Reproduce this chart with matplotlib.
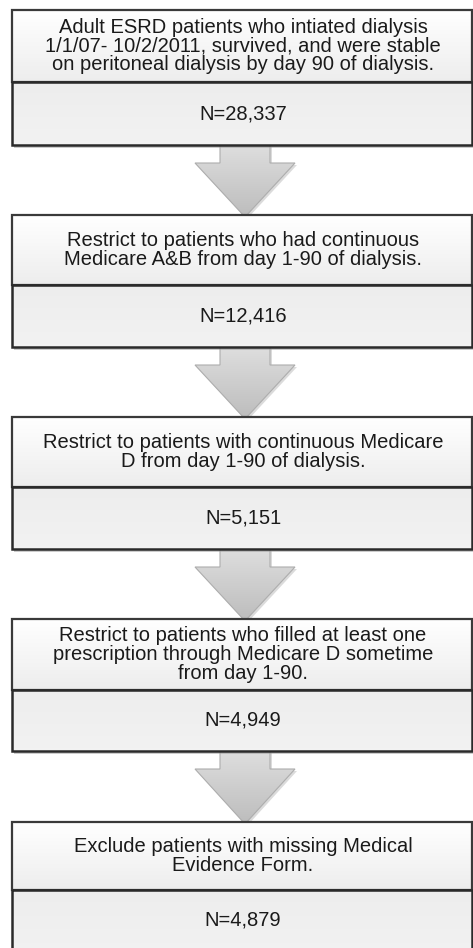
import matplotlib.pyplot as plt
import matplotlib.patches as mpatches
import numpy as np

plt.rcParams['font.family'] = ['Liberation Sans', 'DejaVu Sans']

# flowchart content
step_texts = [
    "Adult ESRD patients who intiated dialysis\n1/1/07- 10/2/2011, survived, and were stable\non peritoneal dialysis by day 90 of dialysis.",
    "Restrict to patients who had continuous\nMedicare A&B from day 1-90 of dialysis.",
    "Restrict to patients with continuous Medicare\nD from day 1-90 of dialysis.",
    "Restrict to patients who filled at least one\nprescription through Medicare D sometime\nfrom day 1-90.",
    "Exclude patients with missing Medical\nEvidence Form.",
]
step_counts = [28337, 12416, 5151, 4949, 4879]

# box layout in pixels (top, divider, bottom)
box_top = [10, 215, 417, 619, 822]
box_div = [82, 285, 487, 690, 890]
box_bot = [145, 347, 549, 751, 960]
x_left, x_right = 12, 472

W, H = 473, 948
fig = plt.figure(figsize=(W / 100, H / 100), dpi=100)
ax = fig.add_axes([0, 0, 1, 1])
ax.set_xlim(0, W)
ax.set_ylim(H, 0)
ax.set_axis_off()


def gradient_fill(patch, c_top, c_bot, y0, y1, x0, x1, z):
    ax.add_patch(patch)
    grad = np.linspace(0, 1, 64)[:, None]
    c_top = np.array(c_top)
    c_bot = np.array(c_bot)
    img = c_top[None, None, :] * (1 - grad[:, :, None]) + c_bot[None, None, :] * grad[:, :, None]
    im = ax.imshow(img, extent=(x0, x1, y1, y0), aspect='auto', zorder=z,
                   interpolation='bilinear')
    im.set_clip_path(patch)


# arrows between boxes
for i in range(len(box_top) - 1):
    y0 = box_bot[i]
    y1 = box_top[i + 1] + 2
    shaft_end = y0 + 18
    cx = 245
    pts = [(cx - 25, y0), (cx + 25, y0), (cx + 25, shaft_end), (cx + 50, shaft_end),
           (cx, y1), (cx - 50, shaft_end), (cx - 25, shaft_end)]
    shadow = mpatches.Polygon([(x + 2, y + 2) for x, y in pts], closed=True,
                              facecolor='#c4c4c4', edgecolor='none', alpha=0.6, zorder=1)
    ax.add_patch(shadow)
    arrow = mpatches.Polygon(pts, closed=True, facecolor='none',
                             edgecolor='#adadad', linewidth=0.8, zorder=2)
    gradient_fill(arrow, (0.87, 0.87, 0.87), (0.74, 0.74, 0.74), y0, y1,
                  cx - 50, cx + 50, 1.5)

# boxes
for i in range(len(step_texts)):
    t, d, b = box_top[i], box_div[i], box_bot[i]
    # shadow
    ax.add_patch(mpatches.Rectangle((x_left + 2, t + 3), x_right - x_left, b - t,
                                    facecolor='#9a9a9a', edgecolor='none', alpha=0.5, zorder=3))
    upper = mpatches.Rectangle((x_left, t), x_right - x_left, d - t,
                               facecolor='none', edgecolor='#3a3a3a', linewidth=1.6, zorder=5)
    gradient_fill(upper, (1.0, 1.0, 1.0), (0.93, 0.93, 0.93), t, d, x_left, x_right, 4)
    lower = mpatches.Rectangle((x_left, d), x_right - x_left, b - d,
                               facecolor='none', edgecolor='#2a2a2a', linewidth=1.8, zorder=5)
    gradient_fill(lower, (0.93, 0.93, 0.93), (0.95, 0.95, 0.95), d, b, x_left, x_right, 4)

    ax.text(243, (t + d) / 2, step_texts[i], ha='center', va='center',
            fontsize=14.5, linespacing=0.98, color='#1a1a1a', zorder=6)
    ny = (d + b) / 2 if i < len(step_texts) - 1 else d + 30
    ax.text(243, ny, "N={:,}".format(step_counts[i]),
            ha='center', va='center', fontsize=14.5, color='#1a1a1a', zorder=6)

fig.savefig('out.png', dpi=100, facecolor='white')
